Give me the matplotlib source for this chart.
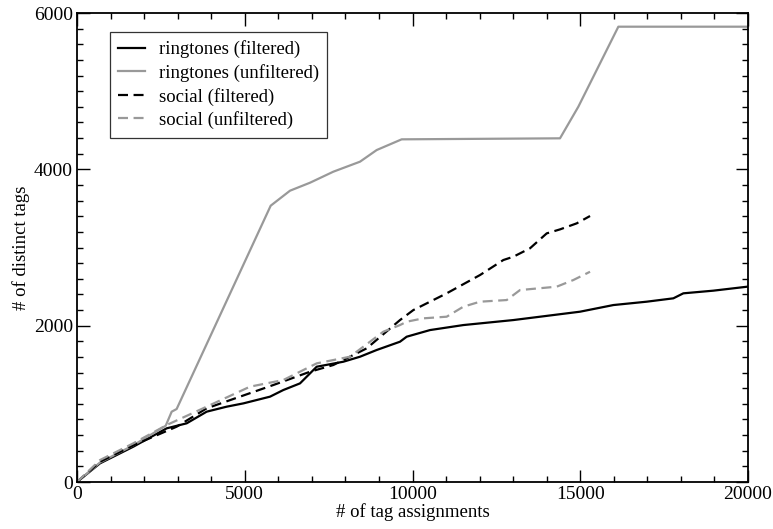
import numpy as np
import matplotlib
matplotlib.use('Agg')
import matplotlib.pyplot as plt
from matplotlib.ticker import MultipleLocator

# Data
ring_filt_x = [0, 686, 1679, 2673, 3269, 3865, 4462, 4958, 5753, 6150, 6647, 7144, 7938, 8435,
               8932, 9627, 9826, 10522, 11515, 13005, 14993, 15986, 16980, 17774, 18072, 18966, 20000]
ring_filt_y = [0, 239, 452, 687, 751, 900, 964, 1006, 1092, 1177, 1262, 1475, 1539, 1603,
               1689, 1795, 1859, 1944, 2008, 2072, 2179, 2264, 2307, 2350, 2414, 2448, 2500]

ring_unf_x = [0, 686, 1679, 2644, 2822, 2970, 5773, 6349, 6945, 7640, 8435, 8932, 9677,
              14396, 14942, 15589, 16135, 20000]
ring_unf_y = [0, 250, 470, 720, 900, 934, 3535, 3727, 3829, 3970, 4098, 4247, 4384,
              4397, 4801, 5356, 5825, 5825]

soc_filt_x = [0, 686, 1679, 2971, 3865, 4858, 5852, 6945, 7640, 8634, 9627, 10025, 11019,
              12012, 12707, 13005, 13502, 14000, 14396, 14893, 15291]
soc_filt_y = [0, 260, 470, 708, 943, 1092, 1241, 1411, 1497, 1710, 2072, 2200, 2414,
              2648, 2840, 2882, 2990, 3181, 3232, 3309, 3403]

soc_unf_x = [0, 686, 1679, 2673, 3865, 5157, 6150, 7144, 8137, 9130, 9627, 9826, 10323,
             11019, 11515, 12012, 12807, 13204, 14298, 14793, 15291]
soc_unf_y = [0, 281, 495, 729, 964, 1220, 1305, 1518, 1603, 1923, 2008, 2051, 2094,
             2115, 2243, 2307, 2328, 2456, 2499, 2584, 2690]

plt.rcParams['font.family'] = ['Liberation Serif', 'DejaVu Serif']
plt.rcParams['font.size'] = 13.5

fig = plt.figure(figsize=(7.73, 5.29), dpi=100)
ax = fig.add_axes([0.0996, 0.0888, 0.8681, 0.8866])

gray = '#999999'
ax.plot(ring_filt_x, ring_filt_y, color='black', lw=1.6, label='ringtones (filtered)')
ax.plot(ring_unf_x, ring_unf_y, color=gray, lw=1.6, label='ringtones (unfiltered)')
ax.plot(soc_filt_x, soc_filt_y, color='black', lw=1.6, ls=(0, (4.5, 2.5)), label='social (filtered)')
ax.plot(soc_unf_x, soc_unf_y, color=gray, lw=1.6, ls=(0, (4.5, 2.5)), label='social (unfiltered)')

ax.set_xlim(0, 20000)
ax.set_ylim(0, 6000)
ax.xaxis.set_major_locator(MultipleLocator(5000))
ax.xaxis.set_minor_locator(MultipleLocator(1000))
ax.yaxis.set_major_locator(MultipleLocator(2000))
ax.yaxis.set_minor_locator(MultipleLocator(200))
ax.tick_params(which='both', direction='in', top=True, right=True, width=1.0)
ax.tick_params(which='major', length=9, labelsize=14, pad=3)
ax.tick_params(which='minor', length=4.5)
for s in ax.spines.values():
    s.set_linewidth(1.3)

ax.set_xlabel('# of tag assignments', fontsize=13.5, labelpad=0)
ax.set_ylabel('# of distinct tags', fontsize=13.5, labelpad=3)

leg = ax.legend(loc='upper left', bbox_to_anchor=(0.049, 0.9595), borderaxespad=0,
                fontsize=13.5, frameon=True, fancybox=False, edgecolor='black',
                handlelength=1.4, handletextpad=0.75, borderpad=0.45, labelspacing=0.3)
leg.get_frame().set_linewidth(0.9)

fig.savefig('out.png', dpi=100)
